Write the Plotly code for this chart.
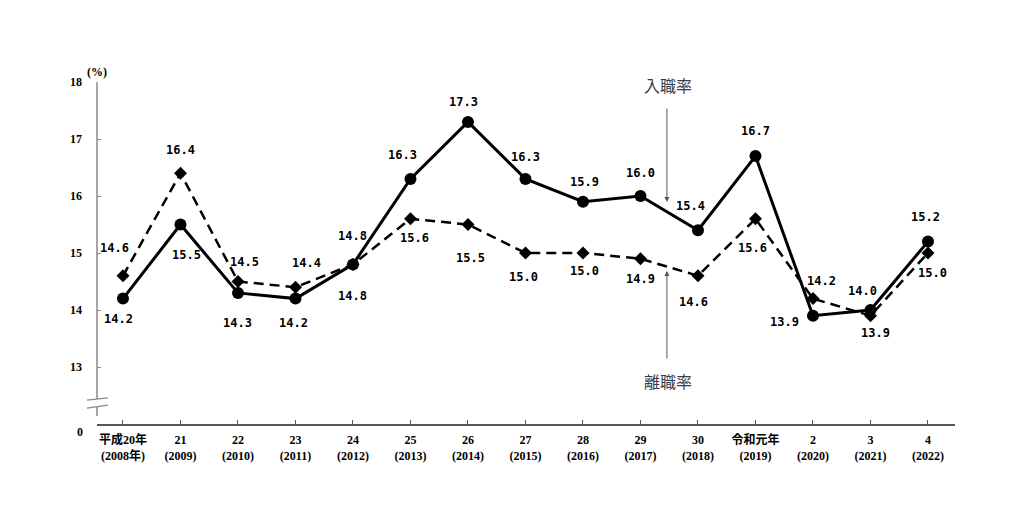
import plotly.graph_objects as go

# 年次ラベル
years = ["平成20年<br>(2008年)", "21<br>(2009)", "22<br>(2010)", "23<br>(2011)", "24<br>(2012)",
         "25<br>(2013)", "26<br>(2014)", "27<br>(2015)", "28<br>(2016)", "29<br>(2017)",
         "30<br>(2018)", "令和元年<br>(2019)", "2<br>(2020)", "3<br>(2021)", "4<br>(2022)"]

# 入職率・離職率 (%)
nyushoku = [14.2, 15.5, 14.3, 14.2, 14.8, 16.3, 17.3, 16.3, 15.9, 16.0, 15.4, 16.7, 13.9, 14.0, 15.2]
rishoku = [14.6, 16.4, 14.5, 14.4, 14.8, 15.6, 15.5, 15.0, 15.0, 14.9, 14.6, 15.6, 14.2, 13.9, 15.0]

y_ticks = [13, 14, 15, 16, 17, 18]

# ラベル位置 (px)
nyu_shift = [(-4, -20), (6, -30), (0, -30), (-2, -24), (0, -32), (-8, 24), (-4, 20), (0, 22),
             (2, 20), (0, 23), (-7, 24), (0, 25), (-28, -6), (-8, 19), (-2, 25)]
ri_shift = [(-8, 28), (0, 23), (7, 20), (11, 24), (0, 28), (4, -19), (3, -33), (-2, -24),
            (2, -18), (0, -20), (-4, -26), (-3, -29), (9, 18), (5, -17), (5, -20)]

x = list(range(len(years)))
LABEL_FONT = dict(family="DejaVu Sans Mono", size=12, color="black")

fig = go.Figure()

fig.add_trace(go.Scatter(
    x=x, y=rishoku, mode="lines+markers", name="離職率",
    line=dict(color="black", width=2.5, dash="10px,6px"),
    marker=dict(symbol="diamond", size=10, color="black"),
))
fig.add_trace(go.Scatter(
    x=x, y=nyushoku, mode="lines+markers", name="入職率",
    line=dict(color="black", width=3),
    marker=dict(symbol="circle", size=12, color="black"),
))

annotations = []
for i, v in enumerate(nyushoku):
    annotations.append(dict(x=i, y=v, text=f"<b>{v:.1f}</b>", showarrow=False, font=LABEL_FONT,
                            xshift=nyu_shift[i][0], yshift=nyu_shift[i][1]))
for i, v in enumerate(rishoku):
    annotations.append(dict(x=i, y=v, text=f"<b>{v:.1f}</b>", showarrow=False, font=LABEL_FONT,
                            xshift=ri_shift[i][0], yshift=ri_shift[i][1]))

# 系列名と矢印
annotations += [
    dict(x=9.47, y=17.95, text="入職率", showarrow=False,
         font=dict(family="Noto Sans CJK JP", size=16, color="#353d4c")),
    dict(x=9.46, y=15.895, text="", showarrow=True, ax=0, ay=-95, arrowhead=2,
         arrowsize=1, arrowwidth=1, arrowcolor="#555"),
    dict(x=9.47, y=12.754, text="離職率", showarrow=False,
         font=dict(family="Noto Sans CJK JP", size=16, color="#353d4c")),
    dict(x=9.46, y=14.684, text="", showarrow=True, ax=0, ay=89, arrowhead=2,
         arrowsize=1, arrowwidth=1, arrowcolor="#555"),
    dict(xref="paper", yref="paper", x=0.0, y=1.0, xanchor="center", yshift=19, text="<b>(%)</b>",
         showarrow=False, font=dict(family="Liberation Serif", size=12, color="black")),
    dict(xref="paper", x=-0.026, y=12.0, yshift=-8, text="<b>0</b>", showarrow=False,
         font=dict(family="Liberation Serif", size=12, color="black")),
]

# 縦軸 (省略記号付き)
AX = "#888"
shapes = [
    dict(type="line", xref="paper", yref="y", x0=0, x1=0, y0=18, y1=12.44, line=dict(color=AX, width=1.5)),
    dict(type="line", xref="paper", yref="y", x0=0, x1=0, y0=12.30, y1=12.14, line=dict(color=AX, width=1.5)),
    dict(type="line", xref="paper", yref="y", x0=-0.0117, x1=0.0128, y0=12.42, y1=12.46, line=dict(color=AX, width=1.2)),
    dict(type="line", xref="paper", yref="y", x0=-0.0117, x1=0.0128, y0=12.28, y1=12.33, line=dict(color=AX, width=1.2)),
]

# ページ余白 8px を考慮
fig.update_layout(
    width=1016, height=498,
    margin=dict(l=89, r=69, t=74, b=82),
    paper_bgcolor="white", plot_bgcolor="white",
    showlegend=False,
    annotations=annotations,
    shapes=shapes,
    xaxis=dict(
        range=[-0.452, 14.47],
        tickmode="array", tickvals=x, ticktext=[f"<b>{t}</b>" for t in years],
        ticks="inside", ticklen=4, tickcolor="#555",
        showline=True, linecolor="#555", linewidth=1.5,
        showgrid=False, zeroline=False,
        ticklabelstandoff=4,
        tickfont=dict(family="Liberation Serif, Noto Sans CJK JP", size=12, color="black"),
    ),
    yaxis=dict(
        range=[12, 18],
        tickmode="array", tickvals=y_ticks, ticktext=[f"<b>{t}</b>" for t in y_ticks],
        ticks="inside", ticklen=4, tickcolor=AX,
        showline=False, showgrid=False, zeroline=False,
        ticklabelstandoff=14,
        tickfont=dict(family="Liberation Serif", size=12, color="black"),
    ),
)

fig.write_html("out.html")
